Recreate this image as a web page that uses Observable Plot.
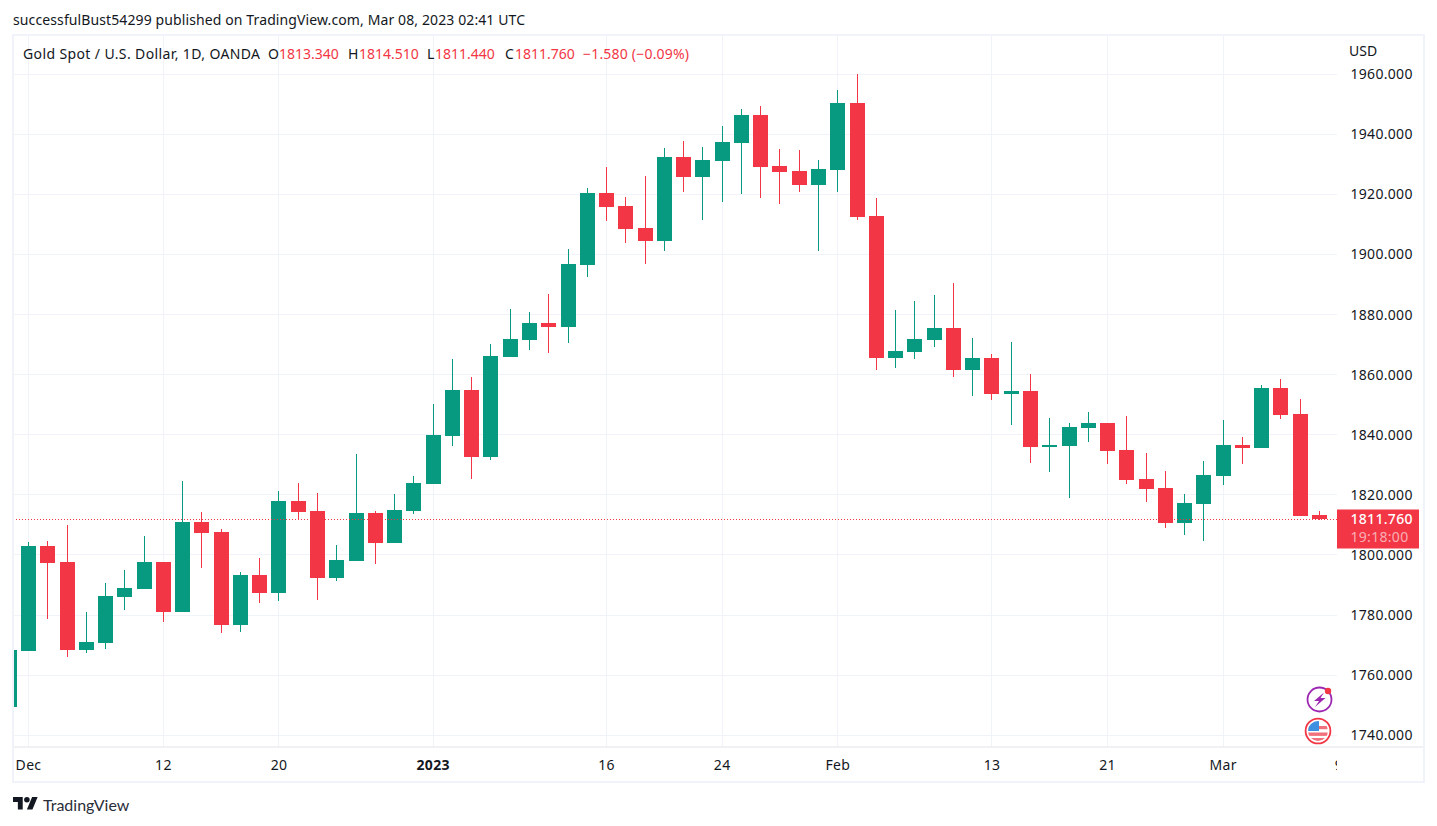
<!DOCTYPE html>
<html>
<head>
<meta charset="utf-8">
<script src="https://cdn.jsdelivr.net/npm/d3@7"></script>
<script src="https://cdn.jsdelivr.net/npm/@observablehq/plot@0.6"></script>
<style>
  html, body { margin: 0; padding: 0; background: #fff; overflow: hidden; }
  body { position: relative; width: 1437px; height: 826px; font-family: "Noto Sans", sans-serif; color: #131722; }
  #head { position: absolute; left: 13px; top: 10px; font-size: 14px; line-height: 20px; white-space: nowrap; height: 20px; letter-spacing: 0.11px; }
  #chart { position: absolute; left: 0; top: 34px; }
  #chart svg { display: block; }
  #chart svg text { letter-spacing: 0.3px; }
  #frame { position: absolute; left: 12px; top: 34px; width: 1409px; height: 745px; border: 2px solid #f0f3fa; pointer-events: none; }
  #legend { position: absolute; left: 0; top: 44px; height: 20px; width: 700px; font-size: 14px; line-height: 20px; }
  #legend span { position: absolute; top: 0; white-space: nowrap; }
  #legend .v { color: #f23645; }
  #usd { position: absolute; left: 1349px; top: 41px; font-size: 14px; line-height: 20px; }
  #foot { position: absolute; left: 13px; top: 794px; height: 20px; }
  #foot svg { position: absolute; left: 0; top: 0; }
  #foot div { position: absolute; left: 30px; top: 0; font-family: Lato, sans-serif; font-size: 16px; line-height: 21px; color: #2a2e39; }
  .icon { position: absolute; }
</style>
</head>
<body>
<div id="head">successfulBust54299 published on TradingView.com, Mar 08, 2023 02:41 UTC</div>
<div id="chart"></div>
<div id="frame"></div>
<div id="legend">
  <span style="left:23px;letter-spacing:0.38px">Gold Spot / U.S. Dollar, 1D, OANDA</span>
  <span style="left:268px">O</span><span class="v" style="left:279px">1813.340</span>
  <span style="left:348px">H</span><span class="v" style="left:359px">1814.510</span>
  <span style="left:427px">L</span><span class="v" style="left:435px">1811.440</span>
  <span style="left:505px">C</span><span class="v" style="left:515px">1811.760</span>
  <span class="v" style="left:583px;letter-spacing:0.2px">−1.580 (−0.09%)</span>
</div>
<div id="usd">USD</div>
<svg class="icon" style="left:1305px;top:685px" width="30" height="30" viewBox="0 0 30 30">
  <circle cx="14.5" cy="14.5" r="12" fill="#fff" stroke="#9c27b0" stroke-width="1.8"/>
  <path d="M19 7.5 L9 16 H14 L10 22 L20.5 13 H15.5 Z" fill="#9c27b0"/>
  <circle cx="23" cy="6" r="3.2" fill="#f23645"/>
</svg>
<svg class="icon" style="left:1304px;top:717px" width="28" height="28" viewBox="0 0 28 28">
  <defs><clipPath id="fc"><circle cx="14" cy="14" r="10"/></clipPath></defs>
  <circle cx="14" cy="14" r="12.4" fill="#fff" stroke="#f23645" stroke-width="1.8"/>
  <g clip-path="url(#fc)">
    <rect x="2" y="4" width="24" height="20" fill="#fff"/>
    <rect x="2" y="9" width="24" height="3.2" fill="#f0717c"/>
    <rect x="2" y="15.5" width="24" height="3.4" fill="#f0717c"/>
    <rect x="2" y="21" width="24" height="4" fill="#f0717c"/>
    <rect x="2" y="3" width="13" height="11" fill="#3d8fe0"/>
  </g>
</svg>
<div id="foot">
  <svg width="25" height="20" viewBox="0 0 36 28"><path d="M14 22H7V11H0V4h14v18zM28 22h-8l7.5-18h8L28 22z" fill="#131722"/><circle cx="20" cy="8" r="4" fill="#131722"/></svg>
  <div>TradingView</div>
</div>
<script>
const opens = [1749.4,1767.96,1802.92,1797.59,1768.29,1770.62,1785.94,1788.6,1797.59,1780.94,1810.91,1807.58,1776.62,1793.27,1787.27,1817.91,1814.58,1792.27,1797.93,1813.91,1803.92,1814.58,1823.57,1839.55,1854.87,1832.56,1865.86,1871.52,1877.18,1875.85,1896.49,1920.47,1916.14,1908.82,1904.49,1932.46,1925.8,1931.13,1937.12,1946.45,1929.46,1927.8,1923.13,1928.13,1950.44,1912.81,1865.53,1867.52,1871.52,1875.52,1861.53,1865.53,1853.54,1854.54,1835.89,1836.22,1842.22,1843.88,1834.89,1825.23,1822.24,1810.58,1816.91,1826.23,1836.56,1835.56,1855.54,1846.88,1813.34];
const highs = [1768.29,1804.25,1804.59,1809.92,1780.94,1790.6,1794.93,1806.25,1797.59,1824.57,1814.24,1808.58,1794.26,1798.93,1821.24,1823.9,1820.57,1803.26,1833.56,1814.58,1820.24,1826.23,1850.21,1865.19,1859.2,1870.19,1881.84,1880.84,1886.84,1901.82,1922.14,1929.13,1919.14,1926.13,1935.46,1937.79,1935.79,1942.78,1948.44,1949.44,1935.12,1934.79,1931.46,1954.77,1960.1,1918.81,1881.51,1884.51,1886.51,1890.5,1872.19,1866.86,1870.85,1860.2,1845.55,1843.88,1847.54,1843.88,1846.21,1833.89,1827.9,1820.24,1831.23,1844.88,1839.22,1856.54,1858.53,1851.87,1814.51];
const lows = [1749.4,1767.96,1778.61,1765.96,1767.29,1768.62,1781.61,1788.6,1777.62,1780.94,1795.6,1773.95,1774.28,1783.94,1784.61,1811.58,1784.94,1791.27,1797.93,1796.93,1803.92,1813.58,1823.57,1836.22,1825.23,1831.56,1865.86,1868.19,1867.19,1870.52,1892.5,1911.15,1903.82,1896.83,1901.16,1920.8,1911.48,1917.47,1920.14,1918.81,1916.81,1920.8,1901.16,1920.8,1911.48,1861.53,1862.2,1865.19,1869.19,1859.2,1852.87,1851.54,1843.22,1830.56,1827.56,1818.91,1837.55,1830.23,1823.57,1817.57,1808.92,1806.58,1804.59,1823.23,1830.23,1835.56,1845.21,1812.91,1811.44];
const closes = [1768.29,1802.92,1797.26,1768.29,1770.95,1786.27,1788.94,1797.59,1780.94,1810.91,1807.25,1776.62,1793.27,1787.27,1817.91,1814.24,1792.27,1798.26,1813.91,1803.92,1814.91,1823.9,1839.88,1854.87,1832.56,1866.19,1871.85,1877.18,1875.85,1896.83,1920.47,1915.81,1908.48,1904.49,1932.46,1925.8,1931.46,1937.45,1946.45,1929.13,1927.46,1923.13,1928.46,1950.44,1912.48,1865.53,1867.86,1871.85,1875.52,1861.53,1865.53,1853.54,1854.54,1835.89,1836.56,1842.55,1843.88,1834.56,1824.9,1821.9,1810.58,1817.24,1826.57,1836.56,1835.56,1855.54,1846.54,1812.91,1811.76];
const tickBars = [1,8,14,22,31,37,43,51,57,63,69];
const tickLabels = ["Dec","12","20","2023","16","24","Feb","13","21","Mar","9"];
const priceTicks = [1740,1760,1780,1800,1820,1840,1860,1880,1900,1920,1940,1960];
const lastPrice = 1811.76;
const lastLabel = "1811.760";
const countdown = "19:18:00";

const UP = "#089981", DOWN = "#f23645", GRID = "#f0f3fa", EDGE = "#e0e3eb", INK = "#131722";
const candles = opens.map((o, i) => ({bar: i, open: o, high: highs[i], low: lows[i], close: closes[i]}));
const candleColor = d => d.close >= d.open ? UP : DOWN;
const labelOf = i => tickLabels[tickBars.indexOf(i)];
const font = "'Noto Sans', sans-serif";

const chart = Plot.plot({
  width: 1437,
  height: 749,
  marginLeft: 13,
  marginRight: 100,
  marginTop: 1,
  marginBottom: 36,
  style: {background: "transparent", fontFamily: font, fontSize: "14px", color: INK},
  x: {type: "linear", domain: [0.2216, 68.933], axis: null, label: null},
  y: {type: "linear", domain: [1735.99, 1973.09], axis: null, label: null},
  marks: [
    Plot.gridY(priceTicks, {stroke: GRID, strokeOpacity: 1, dy: -0.3, shapeRendering: "crispEdges"}),
    Plot.gridX(tickBars.slice(0, -1), {stroke: GRID, strokeOpacity: 1, shapeRendering: "crispEdges"}),
    Plot.ruleX(candles, {x: "bar", y1: "low", y2: "high", stroke: candleColor, strokeWidth: 1, clip: "frame", shapeRendering: "crispEdges"}),
    Plot.ruleX(candles, {x: "bar", y1: "open", y2: "close", stroke: candleColor, strokeWidth: 15, clip: "frame", shapeRendering: "crispEdges"}),
    Plot.ruleY([lastPrice], {stroke: DOWN, strokeWidth: 1, strokeDasharray: "1,2", dy: -0.3, shapeRendering: "crispEdges"}),
    Plot.axisY(priceTicks, {anchor: "right", label: null, tickSize: 0, tickPadding: 13, tickFormat: d3.format(".3f"), fontSize: 14, fill: INK}),
    Plot.axisX(tickBars.filter(i => labelOf(i) !== "2023"), {anchor: "bottom", label: null, tickSize: 0, tickPadding: 13, tickFormat: labelOf, fontSize: 14, fill: INK, lineAnchor: "top"}),
    Plot.axisX(tickBars.filter(i => labelOf(i) === "2023"), {anchor: "bottom", label: null, tickSize: 0, tickPadding: 13, tickFormat: labelOf, fontSize: 14, fontWeight: "bold", fill: INK, lineAnchor: "top"}),
    Plot.ruleY([1735.99], {stroke: EDGE, strokeWidth: 1, insetRight: -87, dy: -0.5}),
    Plot.ruleY([1735.99], {stroke: "#fff", strokeWidth: 30, insetLeft: 1324, insetRight: -86, dy: 17}),
    Plot.ruleY([lastPrice], {stroke: DOWN, strokeWidth: 39, insetLeft: 1324, insetRight: -82, dy: 9}),
    Plot.text([lastLabel], {y: () => lastPrice, frameAnchor: "right", textAnchor: "start", dx: 13, fontSize: 14, fontWeight: 500, fill: "#fff"}),
    Plot.text([countdown], {y: () => lastPrice, frameAnchor: "right", textAnchor: "start", dx: 13, dy: 18, fontSize: 14, fill: "#fff", fillOpacity: 0.6})
  ]
});
document.getElementById("chart").append(chart);
</script>
</body>
</html>
